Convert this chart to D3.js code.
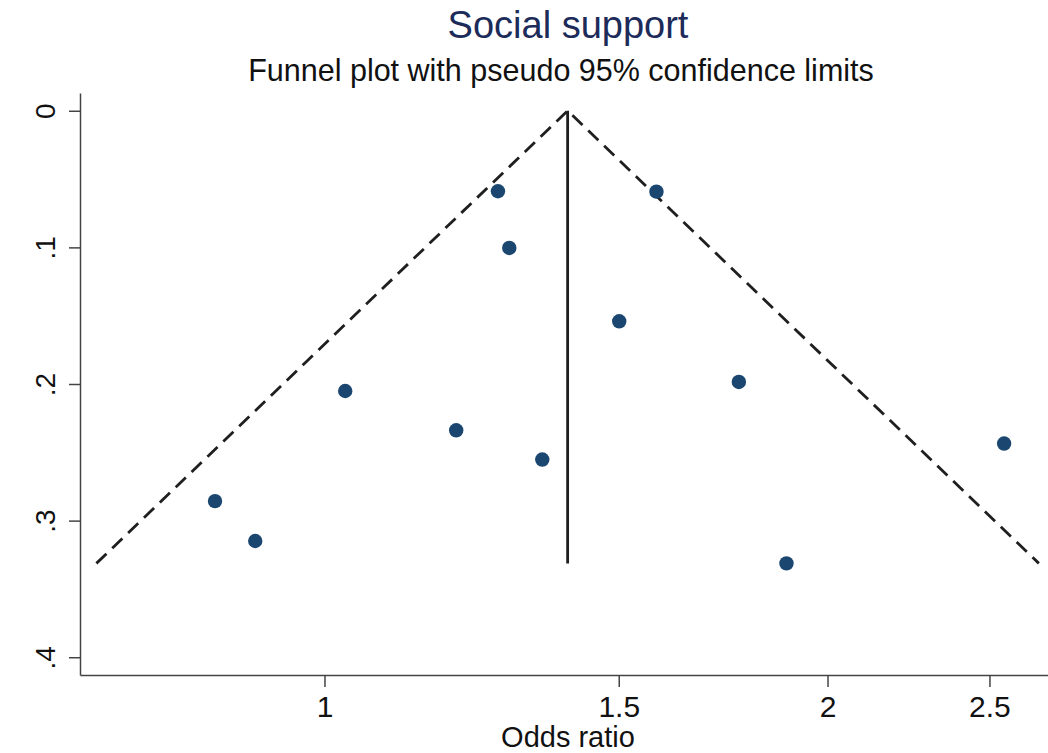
<!DOCTYPE html>
<html>
<head>
<meta charset="utf-8">
<script src="https://cdn.jsdelivr.net/npm/d3@7"></script>
<style>
  html, body { margin: 0; padding: 0; background: #fff; }
  svg { display: block; font-family: "Liberation Sans", Arial, sans-serif; }
</style>
</head>
<body>
<svg id="chart" width="1048" height="753"></svg>
<script>
// Study estimates: odds ratio and its standard error (log scale)
const studyOR = [1.270, 1.580, 1.290, 1.501, 1.029, 1.770, 1.199, 1.350, 2.551, 0.860, 0.909, 1.890];
const studySE = [0.0589, 0.0592, 0.1004, 0.1541, 0.2051, 0.1985, 0.2339, 0.2553, 0.2436, 0.2857, 0.3149, 0.3313];
const pooledOR = 1.398;
const xTickValues = [1, 1.5, 2, 2.5];
const xTickLabels = ["1", "1.5", "2", "2.5"];
const yTickValues = [0, 0.1, 0.2, 0.3, 0.4];
const yTickLabels = ["0", ".1", ".2", ".3", ".4"];
const xLimits = [0.714, 2.71];
const yLimits = [-0.013, 0.413];

const svg = d3.select("#chart");
const plot = { left: 80, right: 1048, top: 93, bottom: 675 };

const x = d3.scaleLog().domain(xLimits).range([plot.left, plot.right]);
const y = d3.scaleLinear().domain(yLimits).range([plot.top, plot.bottom]);

// Titles
svg.append("text")
  .attr("x", 568).attr("y", 38)
  .attr("text-anchor", "middle")
  .attr("font-size", 38)
  .attr("fill", "#1c2b59")
  .text("Social support");

svg.append("text")
  .attr("x", 561).attr("y", 81)
  .attr("text-anchor", "middle")
  .attr("font-size", 30.5)
  .attr("fill", "#111")
  .text("Funnel plot with pseudo 95% confidence limits");

// Axes
const xAxis = d3.axisBottom(x)
  .tickValues(xTickValues)
  .tickFormat((d, i) => xTickLabels[i])
  .tickSize(12)
  .tickPadding(9)
  .tickSizeOuter(0);

const gx = svg.append("g")
  .attr("transform", `translate(0,${plot.bottom})`)
  .call(xAxis);
gx.select(".domain").attr("stroke", "#444").attr("stroke-width", 1.5);
gx.selectAll(".tick line").attr("stroke", "#444").attr("stroke-width", 1.5);
gx.selectAll(".tick text")
  .attr("font-size", 30)
  .attr("fill", "#111")
  .attr("font-family", "Liberation Sans, Arial, sans-serif");

const yAxis = d3.axisLeft(y)
  .tickValues(yTickValues)
  .tickFormat((d, i) => yTickLabels[i])
  .tickSize(11)
  .tickSizeOuter(0);

const gy = svg.append("g")
  .attr("transform", `translate(${plot.left},0)`)
  .call(yAxis);
gy.select(".domain").attr("stroke", "#444").attr("stroke-width", 1.5);
gy.selectAll(".tick line").attr("stroke", "#444").attr("stroke-width", 1.5);
gy.selectAll(".tick text")
  .attr("font-size", 28)
  .attr("fill", "#111")
  .attr("font-family", "Liberation Sans, Arial, sans-serif")
  .attr("x", null).attr("dy", null)
  .attr("text-anchor", "middle")
  .attr("transform", "translate(-25,0) rotate(-90)");

// Axis title
svg.append("text")
  .attr("x", 568).attr("y", 747)
  .attr("text-anchor", "middle")
  .attr("font-size", 29)
  .attr("fill", "#111")
  .text("Odds ratio");

// Pseudo 95% confidence limits
const maxSE = d3.max(studySE);
const lnPooled = Math.log(pooledOR);
const lowerEnd = Math.exp(lnPooled - 1.96 * maxSE);
const upperEnd = Math.exp(lnPooled + 1.96 * maxSE);

const funnel = svg.append("g")
  .attr("fill", "none")
  .attr("stroke", "#1f1f1f")
  .attr("stroke-width", 2.8);

const line = d3.line().x(d => x(d[0])).y(d => y(d[1]));
funnel.append("path")
  .attr("d", line([[lowerEnd, maxSE], [pooledOR, 0], [upperEnd, maxSE]]))
  .attr("stroke-dasharray", "14,8")
  .attr("stroke-linejoin", "miter");

// Pooled estimate line
funnel.append("path")
  .attr("d", line([[pooledOR, 0], [pooledOR, maxSE]]));

// Study points
svg.append("g")
  .selectAll("circle")
  .data(studyOR.map((or, i) => ({ or, se: studySE[i] })))
  .join("circle")
  .attr("cx", d => x(d.or))
  .attr("cy", d => y(d.se))
  .attr("r", 7.2)
  .attr("fill", "#1a4670");
</script>
</body>
</html>
